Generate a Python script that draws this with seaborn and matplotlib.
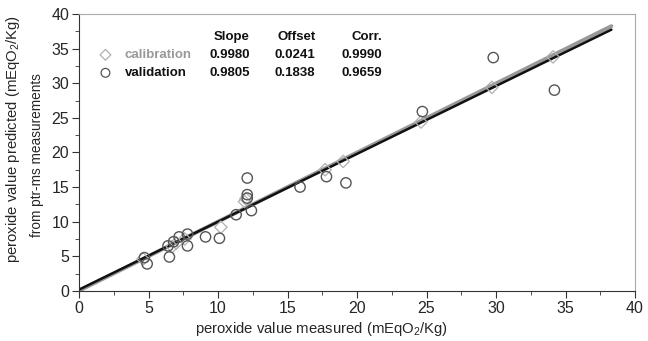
import numpy as np
import pandas as pd
import seaborn as sns
import matplotlib.pyplot as plt
from matplotlib.ticker import MultipleLocator

# calibration set (diamonds)
cal_x = [4.6, 6.7, 7.0, 7.6, 10.2, 11.9, 12.0, 17.7, 19.0, 24.6, 29.7, 34.1]
cal_y = [4.6, 6.4, 6.9, 7.5, 9.2, 12.9, 13.3, 17.5, 18.7, 24.4, 29.4, 33.8]

# validation set (circles)
val_x = [4.7, 4.9, 6.4, 6.5, 6.8, 7.2, 7.8, 7.8, 9.1, 10.1, 11.3,
         12.1, 12.1, 12.1, 12.4, 15.9, 17.8, 19.2, 24.7, 29.8, 34.2]
val_y = [4.8, 3.9, 6.5, 4.9, 7.1, 7.8, 8.2, 6.5, 7.8, 7.6, 11.0,
         16.3, 13.9, 13.4, 11.6, 15.0, 16.5, 15.6, 25.9, 33.7, 29.0]

# fit parameters
fit_names = ['calibration', 'validation']
fit_slope = [0.9980, 0.9805]
fit_offset = [0.0241, 0.1838]
fit_corr = [0.9990, 0.9659]
line_x = [0, 38.3]

cal = pd.DataFrame({'x': cal_x, 'y': cal_y})
val = pd.DataFrame({'x': val_x, 'y': val_y})

sns.set_style('ticks')
plt.rcParams['font.family'] = ['Liberation Sans', 'DejaVu Sans']
plt.rcParams['mathtext.fontset'] = 'custom'
plt.rcParams['mathtext.rm'] = 'Liberation Sans'
plt.rcParams['mathtext.it'] = 'Liberation Sans:italic'
plt.rcParams['mathtext.bf'] = 'Liberation Sans:bold'

fig, ax = plt.subplots(figsize=(6.48, 3.41), dpi=100)
fig.subplots_adjust(left=0.122, right=0.980, top=0.959, bottom=0.147)

# fitted lines
lx = np.array(line_x)
fit_colors = ['#999999', '#111111']
fit_widths = [2.8, 1.8]
for s, o, c, w in zip(fit_slope, fit_offset, fit_colors, fit_widths):
    sns.lineplot(x=lx, y=s * lx + o, ax=ax, color=c, lw=w, zorder=2)

sns.scatterplot(data=cal, x='x', y='y', ax=ax, marker='D', s=40,
                facecolor='none', edgecolor='#b0b0b0', linewidth=0.9, zorder=3)
sns.scatterplot(data=val, x='x', y='y', ax=ax, marker='o', s=55,
                facecolor='none', edgecolor='#555555', linewidth=1.0, zorder=4)

ax.set_xlim(0, 40)
ax.set_ylim(0, 40)
ax.xaxis.set_major_locator(MultipleLocator(5))
ax.xaxis.set_minor_locator(MultipleLocator(2.5))
ax.yaxis.set_major_locator(MultipleLocator(5))
ax.yaxis.set_minor_locator(MultipleLocator(2.5))
ax.tick_params(which='major', length=5, width=0.8, labelsize=11.5, color='#333333', pad=2)
ax.tick_params(which='minor', length=3, width=0.6, color='#333333')

for side in ['top', 'right']:
    ax.spines[side].set_color('#aaaaaa')
for side in ['left', 'bottom']:
    ax.spines[side].set_color('#333333')

ax.set_xlabel('peroxide value measured (mEqO$_2$/Kg)', fontsize=10.7, labelpad=1)
ax.xaxis.set_label_coords(0.437, -0.105)
ax.set_ylabel('')
fig.text(0.020, 0.592, 'peroxide value predicted (mEqO$_2$/Kg)', rotation=90,
         ha='center', va='center', fontsize=10.7)
fig.text(0.057, 0.545, 'from ptr-ms measurements', rotation=90,
         ha='center', va='center', fontsize=9.8)

# fit summary table (right aligned columns)
hx = [12.3, 17.0, 21.8]
fs = 9.5
for xx, h in zip(hx, ['Slope', 'Offset', 'Corr.']):
    ax.text(xx, 36.7, h, ha='right', va='center', fontsize=fs, fontweight='bold',
            color='#111111')
row_y = [34.1, 31.5]
row_col = ['#999999', '#111111']
row_mark = ['D', 'o']
for i in range(2):
    ax.scatter([1.9], [row_y[i]], marker=row_mark[i], s=30 if i == 0 else 40,
               facecolor='none', edgecolor='#b0b0b0' if i == 0 else '#555555',
               linewidth=0.9)
    ax.text(3.3, row_y[i], fit_names[i], ha='left', va='center', fontsize=fs,
            fontweight='bold', color=row_col[i])
    vals = ['%.4f' % fit_slope[i], '%.4f' % fit_offset[i], '%.4f' % fit_corr[i]]
    for xx, v in zip(hx, vals):
        ax.text(xx, row_y[i], v, ha='right', va='center', fontsize=fs,
                fontweight='bold', color='#111111')

fig.savefig('out.png', dpi=100)
